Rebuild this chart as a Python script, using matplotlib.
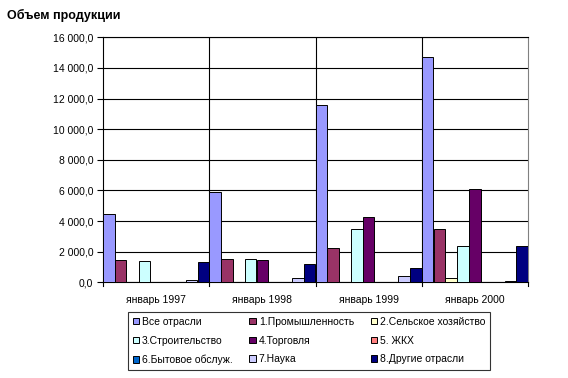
import matplotlib
matplotlib.use("Agg")
import matplotlib.pyplot as plt
import numpy as np
from matplotlib.ticker import FuncFormatter, MultipleLocator

categories = ["январь 1997", "январь 1998", "январь 1999", "январь 2000"]
series_names = ["Все отрасли", "1.Промышленность", "2.Сельское хозяйство",
                "3.Строительство", "4.Торговля", "5. ЖКХ",
                "6.Бытовое обслуж.", "7.Наука", "8.Другие отрасли"]
all_sectors = [4440, 5880, 11560, 14730]
industry = [1480, 1520, 2260, 3480]
agriculture = [0, 0, 0, 260]
construction = [1410, 1520, 3480, 2390]
trade = [0, 1440, 4290, 6090]
housing = [0, 0, 40, 0]
services = [0, 0, 0, 40]
science = [150, 260, 430, 110]
other = [1345, 1215, 915, 2390]
values = [all_sectors, industry, agriculture, construction, trade,
          housing, services, science, other]
colors = ["#9999FF", "#993366", "#FFFFCC", "#CCFFFF", "#660066",
          "#FF8080", "#0066CC", "#CCCCFF", "#000080"]

plt.rcParams['font.family'] = ['Liberation Sans', 'DejaVu Sans']

fig = plt.figure(figsize=(5.68, 3.78), dpi=100)
ax = fig.add_axes([103/568, 1-282.3/378, (528-103)/568, (282.3-37.3)/378])

n = len(values)
w = 1.0 / n
x = np.arange(len(categories))
for i, (vals, c, name) in enumerate(zip(values, colors, series_names)):
    ax.bar(x - 0.5 + w*(i+0.5), vals, width=w*0.98, color=c,
           edgecolor="black", linewidth=0.7, label=name, zorder=3)

ax.set_xlim(-0.5, len(categories)-0.5)
ax.set_ylim(0, 16000)
ax.yaxis.set_major_locator(MultipleLocator(2000))
ax.yaxis.set_major_formatter(FuncFormatter(
    lambda v, p: f"{v:,.1f}".replace(",", " ").replace(".", ",")))
ax.set_xticks(x)
ax.set_xticklabels(categories)
ax.tick_params(axis='x', length=0, labelsize=7.5, pad=9)
ax.tick_params(axis='y', length=4, width=0.8, labelsize=7.5, pad=3, direction='out')
for b in np.arange(0.5, len(categories)-0.5, 1.0):
    ax.axvline(b, color="black", linewidth=0.8, zorder=1)
ax.yaxis.grid(True, color="black", linewidth=0.8, zorder=1)
for b in np.arange(-0.5, len(categories), 1.0):
    ax.plot([b, b], [0, -250], color="black", linewidth=0.8, clip_on=False)
ax.spines['left'].set_color("black")
ax.spines['bottom'].set_color("black")
ax.spines['top'].set_color("black")
ax.spines['right'].set_color("#808080")
for s in ax.spines.values():
    s.set_linewidth(0.8)

fig.text(7/568, 1-15/378, "Объем продукции", fontsize=9, fontweight="bold",
         va="center", ha="left")

handles, labels = ax.get_legend_handles_labels()
order = [0, 3, 6, 1, 4, 7, 2, 5, 8]
leg = fig.legend([handles[i] for i in order], [labels[i] for i in order],
                 loc="upper left", bbox_to_anchor=(128/568, 1-312/378), ncol=3,
                 fontsize=7.5, frameon=True, fancybox=False, edgecolor="black",
                 handlelength=0.6, handleheight=0.6, handletextpad=0.3,
                 columnspacing=1.6, labelspacing=0.85, borderpad=0.45,
                 borderaxespad=0)
leg.get_frame().set_linewidth(0.8)

fig.savefig("out.png", dpi=100)
